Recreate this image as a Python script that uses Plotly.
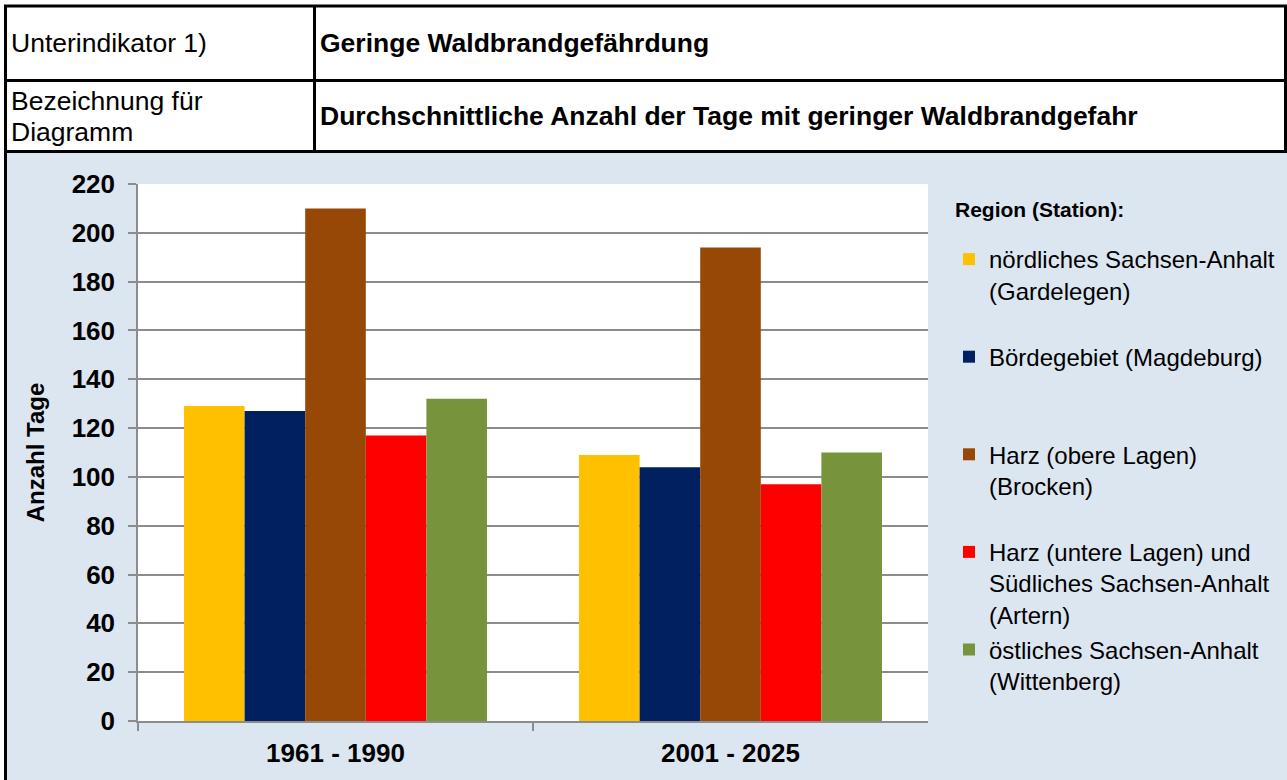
import plotly.graph_objects as go

# ---- data ----
periods = ["1961 - 1990", "2001 - 2025"]
regions = [
    "nördliches Sachsen-Anhalt<br>(Gardelegen)<br> ",
    "Bördegebiet (Magdeburg)<br> <br> ",
    "Harz (obere Lagen)<br>(Brocken)<br> ",
    "Harz (untere Lagen) und<br>Südliches Sachsen-Anhalt<br>(Artern)",
    "östliches Sachsen-Anhalt<br>(Wittenberg)<br> ",
]
values_gardelegen = [129, 109]
values_magdeburg = [127, 104]
values_brocken = [210, 194]
values_artern = [117, 97]
values_wittenberg = [132, 110]
colors = ["#FFC000", "#002060", "#974706", "#FF0000", "#77933C"]
y_ticks = list(range(0, 221, 20))

legend_title = "Region (Station):"
header_left = ["Unterindikator 1)", "Bezeichnung für", "Diagramm"]
header_right = ["Geringe Waldbrandgefährdung",
                "Durchschnittliche Anzahl der Tage mit geringer Waldbrandgefahr"]

W, H = 1287, 780
FONT = "Liberation Sans, Arial, sans-serif"


def px(x):
    return x / W


def py(y):
    return 1 - y / H


series = [values_gardelegen, values_magdeburg, values_brocken, values_artern, values_wittenberg]

fig = go.Figure()
for i, (name, vals, col) in enumerate(zip(regions, series, colors)):
    fig.add_trace(go.Bar(x=periods, y=vals, name=name, legendgroup=f"g{i}",
                         marker=dict(color=col, line=dict(width=0))))

shapes = []
# chart region background
shapes.append(dict(type="rect", xref="paper", yref="paper", x0=px(5), x1=1, y0=0, y1=py(152),
                   fillcolor="#dce6f1", line=dict(width=0), layer="below"))
# plot area white
shapes.append(dict(type="rect", xref="paper", yref="paper", x0=px(138), x1=px(928), y0=py(721), y1=py(184),
                   fillcolor="white", line=dict(width=0), layer="below"))
blk = dict(color="black", width=3)
# header / border lines
shapes += [
    dict(type="line", xref="paper", yref="paper", x0=px(4), x1=px(1287), y0=py(6), y1=py(6), line=blk),
    dict(type="line", xref="paper", yref="paper", x0=px(4), x1=px(1287), y0=py(80.5), y1=py(80.5), line=blk),
    dict(type="line", xref="paper", yref="paper", x0=px(4), x1=px(1287), y0=py(151.5), y1=py(151.5), line=blk),
    dict(type="line", xref="paper", yref="paper", x0=px(5.5), x1=px(5.5), y0=py(5), y1=0, line=blk),
    dict(type="line", xref="paper", yref="paper", x0=px(314.5), x1=px(314.5), y0=py(5), y1=py(152), line=blk),
    dict(type="line", xref="paper", yref="paper", x0=px(1285.5), x1=px(1285.5), y0=py(5), y1=py(152), line=blk),
]


def ann(text, x, y, size, bold=False):
    f = dict(family=FONT, size=size, color="black")
    if bold:
        f["weight"] = "bold"
    return dict(text=text, x=px(x), y=py(y), xref="paper", yref="paper", xanchor="left",
                yanchor="middle", showarrow=False, font=f)


annotations = [
    ann(header_left[0], 9, 43, 26.5),
    ann(header_left[1], 9, 101, 26.5),
    ann(header_left[2], 9, 132, 26.5),
    ann(header_right[0], 318, 43, 26.5, True),
    ann(header_right[1], 318, 116, 26.5, True),
    ann(legend_title, 953, 210, 21, True),
]

fig.update_layout(
    width=W, height=H, margin=dict(l=0, r=0, t=0, b=0, pad=0),
    paper_bgcolor="white", plot_bgcolor="white",
    barmode="group", bargap=0.233, bargroupgap=0,
    shapes=shapes, annotations=annotations,
    xaxis=dict(domain=[px(138), px(928)], type="category", showline=True, linecolor="#8c8c8c", linewidth=1.5,
               ticks="outside", tickson="boundaries", ticklen=8, tickcolor="#8c8c8c", tickwidth=1.5,
               ticklabelstandoff=8,
               tickfont=dict(family=FONT, size=26, color="black", weight="bold"), showgrid=False,
               automargin=False),
    yaxis=dict(domain=[py(721), py(184)], range=[0, 220], tickvals=y_ticks, showline=True, linecolor="#8c8c8c",
               linewidth=1.5, ticks="outside", ticklen=8, tickcolor="#8c8c8c", tickwidth=1.5,
               ticklabelstandoff=8,
               showgrid=True, gridcolor="#8c8c8c", gridwidth=1.5, zeroline=False,
               tickfont=dict(family=FONT, size=26, color="black", weight="bold"),
               title=dict(text="Anzahl Tage", font=dict(family=FONT, size=24, color="black", weight="bold"),
                          standoff=20),
               automargin=False),
    legend=dict(x=px(949), y=py(237), xanchor="left", yanchor="top", bgcolor="rgba(0,0,0,0)",
                font=dict(family=FONT, size=24, color="black"), valign="top",
                tracegroupgap=1),
    showlegend=True,
)

fig.write_html("out.html", config={"displayModeBar": False},
               post_script="document.body.style.margin='0';document.body.style.padding='0';")
